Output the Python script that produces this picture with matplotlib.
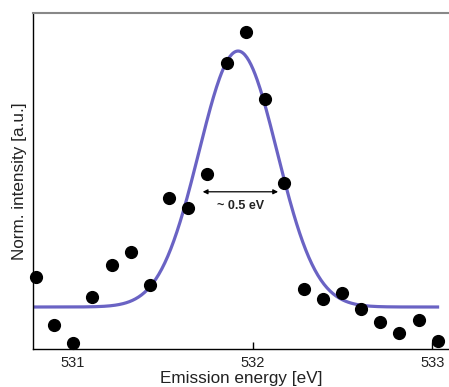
import numpy as np
import matplotlib
matplotlib.use("Agg")
import matplotlib.pyplot as plt

plt.rcParams['font.family'] = ['Liberation Sans', 'DejaVu Sans']

# measured emission spectrum (normalised)
energy = [530.794, 530.894, 531.000, 531.106, 531.217, 531.323, 531.429,
          531.535, 531.641, 531.747, 531.858, 531.964, 532.070, 532.175,
          532.287, 532.393, 532.499, 532.604, 532.710, 532.816, 532.928,
          533.033]
intensity = [0.214, 0.071, 0.018, 0.155, 0.250, 0.289, 0.190, 0.449, 0.420,
             0.521, 0.851, 0.943, 0.744, 0.494, 0.179, 0.149, 0.167, 0.119,
             0.080, 0.048, 0.086, 0.024]

# gaussian fit parameters
fit_center = 531.919
fit_sigma = 0.2176
fit_amp = 0.762
fit_offset = 0.125
fwhm_left = 531.722
fwhm_right = 532.142
fwhm_label = "~ 0.5 eV"

x_ticks = [531, 532, 533]

fig = plt.figure(figsize=(4.49, 3.87), dpi=100)
ax = fig.add_axes([0.0735, 0.0982, 0.927, 0.868])

xs = np.linspace(530.777, 533.03, 400)
fit = fit_offset + fit_amp * np.exp(-(xs - fit_center) ** 2 / (2 * fit_sigma ** 2))
ax.plot(xs, fit, color='#6a63c4', lw=2.3, zorder=2)
ax.scatter(energy, intensity, s=72, color='black', zorder=3, clip_on=False)

ax.annotate('', xy=(fwhm_left, 0.468), xytext=(fwhm_right, 0.468),
            arrowprops=dict(arrowstyle='<|-|>', color='black', lw=0.9,
                            mutation_scale=7, shrinkA=0, shrinkB=0))
ax.text((fwhm_left + fwhm_right) / 2, 0.425, fwhm_label, ha='center',
        va='center', fontsize=9, fontweight='bold', color='#222222')

ax.set_xlim(530.777, 533.095)
ax.set_ylim(0, 1)
ax.set_xticks(x_ticks)
ax.set_xticklabels([str(t) for t in x_ticks], fontsize=10.5, color='#222222')
ax.set_yticks([])
ax.tick_params(axis='x', direction='in', length=5, width=1, pad=5)

ax.spines['right'].set_visible(False)
ax.spines['top'].set_color('#888888')
ax.spines['top'].set_linewidth(1.5)
ax.spines['left'].set_linewidth(1)
ax.spines['bottom'].set_linewidth(1)

ax.set_xlabel('Emission energy [eV]', fontsize=12.3, color='#222222', labelpad=1)
ax.set_ylabel('Norm. intensity [a.u.]', fontsize=12.3, color='#222222', labelpad=4)

fig.savefig('out.png', dpi=100)
